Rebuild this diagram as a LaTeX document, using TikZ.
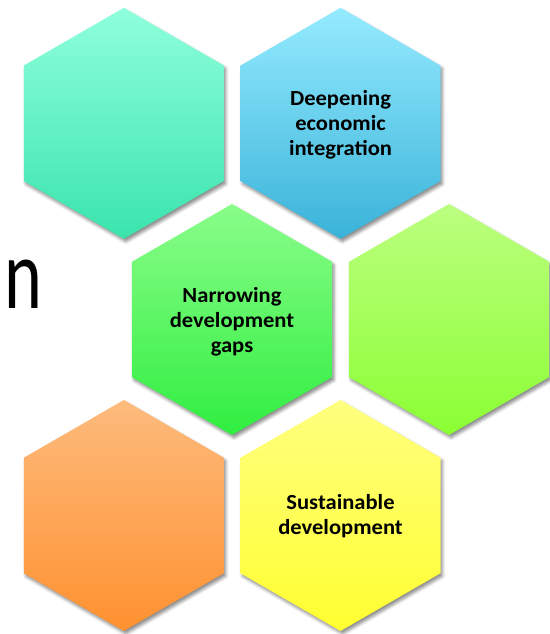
\documentclass[tikz,border=0pt]{standalone}
\usepackage{fontspec}
\setmainfont{Carlito}
\usepackage{tikz}
\usetikzlibrary{shapes.geometric, shadows.blur}

\definecolor{tealtop}{HTML}{8FFFDC}
\definecolor{tealbot}{HTML}{3AE4AC}
\definecolor{bluetop}{HTML}{95EBFF}
\definecolor{bluebot}{HTML}{3AB3D9}
\definecolor{greentop}{HTML}{8AFD8A}
\definecolor{greenbot}{HTML}{30EE40}
\definecolor{limetop}{HTML}{BCFF80}
\definecolor{limebot}{HTML}{8BFF33}
\definecolor{orangetop}{HTML}{FDBB7D}
\definecolor{orangebot}{HTML}{FF9130}
\definecolor{yellowtop}{HTML}{FFFF80}
\definecolor{yellowbot}{HTML}{FFFF30}

\tikzset{
  hexa/.style={regular polygon, regular polygon sides=6, shape border rotate=30,
    minimum size=231pt, inner sep=0pt, outer sep=0pt,
    blur shadow={shadow xshift=2pt, shadow yshift=-3pt, shadow blur radius=3pt, shadow opacity=45}},
  hexlabel/.style={align=center, inner sep=0pt, xscale=1.05, transform shape,
    font=\bfseries\fontsize{21.5}{25}\selectfont}
}

\begin{document}
\begin{tikzpicture}[x=1pt, y=1pt]

    \useasboundingbox (0, 0) rectangle (549, 634);

    \node [hexa, top color=tealtop, bottom color=tealbot] (h1) at (123.8, 510.7) {};
    \node [hexa, top color=bluetop, bottom color=bluebot] (h2) at (340.5, 510.7) {};
    \node [hexa, top color=greentop, bottom color=greenbot] (h3) at (232, 314.5) {};
    \node [hexa, top color=limetop, bottom color=limebot] (h4) at (449, 314.5) {};
    \node [hexa, top color=orangetop, bottom color=orangebot] (h5) at (123.8, 118.5) {};
    \node [hexa, top color=yellowtop, bottom color=yellowbot] (h6) at (340.5, 118.5) {};

    \node [hexlabel] (deep) at ([yshift=-1]h2.center) {Deepening\\economic\\integration};
    \node [hexlabel] (narrow) at ([yshift=-2]h3.center) {Narrowing\\development\\gaps};
    \node [hexlabel] (sust) at ([yshift=-1]h6.center) {Sustainable\\development};

    \node [anchor=base west, inner sep=0pt, xscale=0.72, transform shape,
      font=\fontsize{100}{100}\selectfont] (letter) at (4, 325) {n};

  \end{tikzpicture}
\end{document}
